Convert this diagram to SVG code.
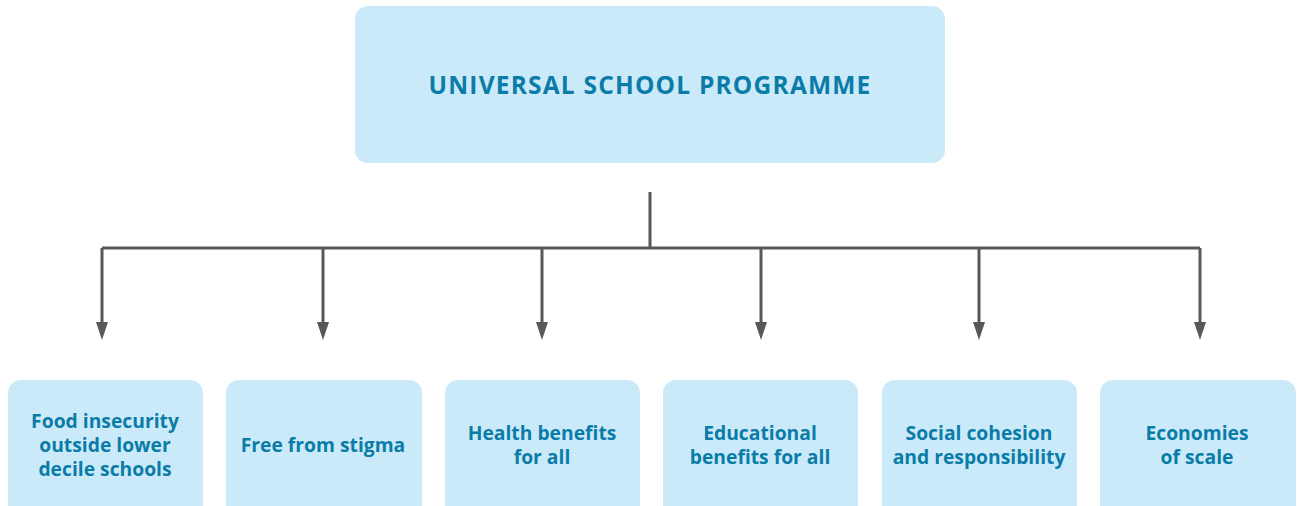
<svg xmlns="http://www.w3.org/2000/svg" width="1298" height="506" viewBox="0 0 1298 506">
  <style>
    .box { fill: #cbeaf9; }
    .title { font-family: "Open Sans", "Liberation Sans", sans-serif; font-weight: 700; font-size: 24.5px; letter-spacing: 1.2px; fill: #0a7ca8; text-anchor: middle; }
    .label { font-family: "Open Sans", "Liberation Sans", sans-serif; font-weight: 700; font-size: 19.3px; fill: #0a7ca8; text-anchor: middle; }
    .wire { fill: none; stroke: #58585a; stroke-width: 3; }
    .head { fill: #58585a; }
  </style>

  <g id="programme">
    <rect class="box" x="355" y="6" width="590" height="157" rx="13"/>
    <text class="title" x="650" y="94">UNIVERSAL SCHOOL PROGRAMME</text>
  </g>

  <g id="connectors">
    <path class="wire" d="M650,192 V248 M102,248 H1200"/>
    <path class="wire" d="M102,248 V322"/>
    <path class="wire" d="M323,248 V322"/>
    <path class="wire" d="M542,248 V322"/>
    <path class="wire" d="M761,248 V322"/>
    <path class="wire" d="M979,248 V322"/>
    <path class="wire" d="M1200,248 V322"/>
    <path class="head" d="M96,322 H108 L102,340 Z"/>
    <path class="head" d="M317,322 H329 L323,340 Z"/>
    <path class="head" d="M536,322 H548 L542,340 Z"/>
    <path class="head" d="M755,322 H767 L761,340 Z"/>
    <path class="head" d="M973,322 H985 L979,340 Z"/>
    <path class="head" d="M1194,322 H1206 L1200,340 Z"/>
  </g>

  <g id="food-insecurity">
    <rect class="box" x="8" y="380" width="195" height="140" rx="13"/>
    <text class="label" x="105" y="428">Food insecurity</text>
    <text class="label" x="105" y="452">outside lower</text>
    <text class="label" x="105" y="476">decile schools</text>
  </g>
  <g id="free-from-stigma">
    <rect class="box" x="226" y="380" width="196" height="140" rx="13"/>
    <text class="label" x="323" y="452">Free from stigma</text>
  </g>
  <g id="health-benefits">
    <rect class="box" x="445" y="380" width="195" height="140" rx="13"/>
    <text class="label" x="542" y="440">Health benefits</text>
    <text class="label" x="542" y="464">for all</text>
  </g>
  <g id="educational-benefits">
    <rect class="box" x="663" y="380" width="195" height="140" rx="13"/>
    <text class="label" x="760" y="440">Educational</text>
    <text class="label" x="760" y="464">benefits for all</text>
  </g>
  <g id="social-cohesion">
    <rect class="box" x="882" y="380" width="195" height="140" rx="13"/>
    <text class="label" x="979" y="440">Social cohesion</text>
    <text class="label" x="979" y="464">and responsibility</text>
  </g>
  <g id="economies-of-scale">
    <rect class="box" x="1100" y="380" width="196" height="140" rx="13"/>
    <text class="label" x="1197" y="440">Economies</text>
    <text class="label" x="1197" y="464">of scale</text>
  </g>
</svg>
